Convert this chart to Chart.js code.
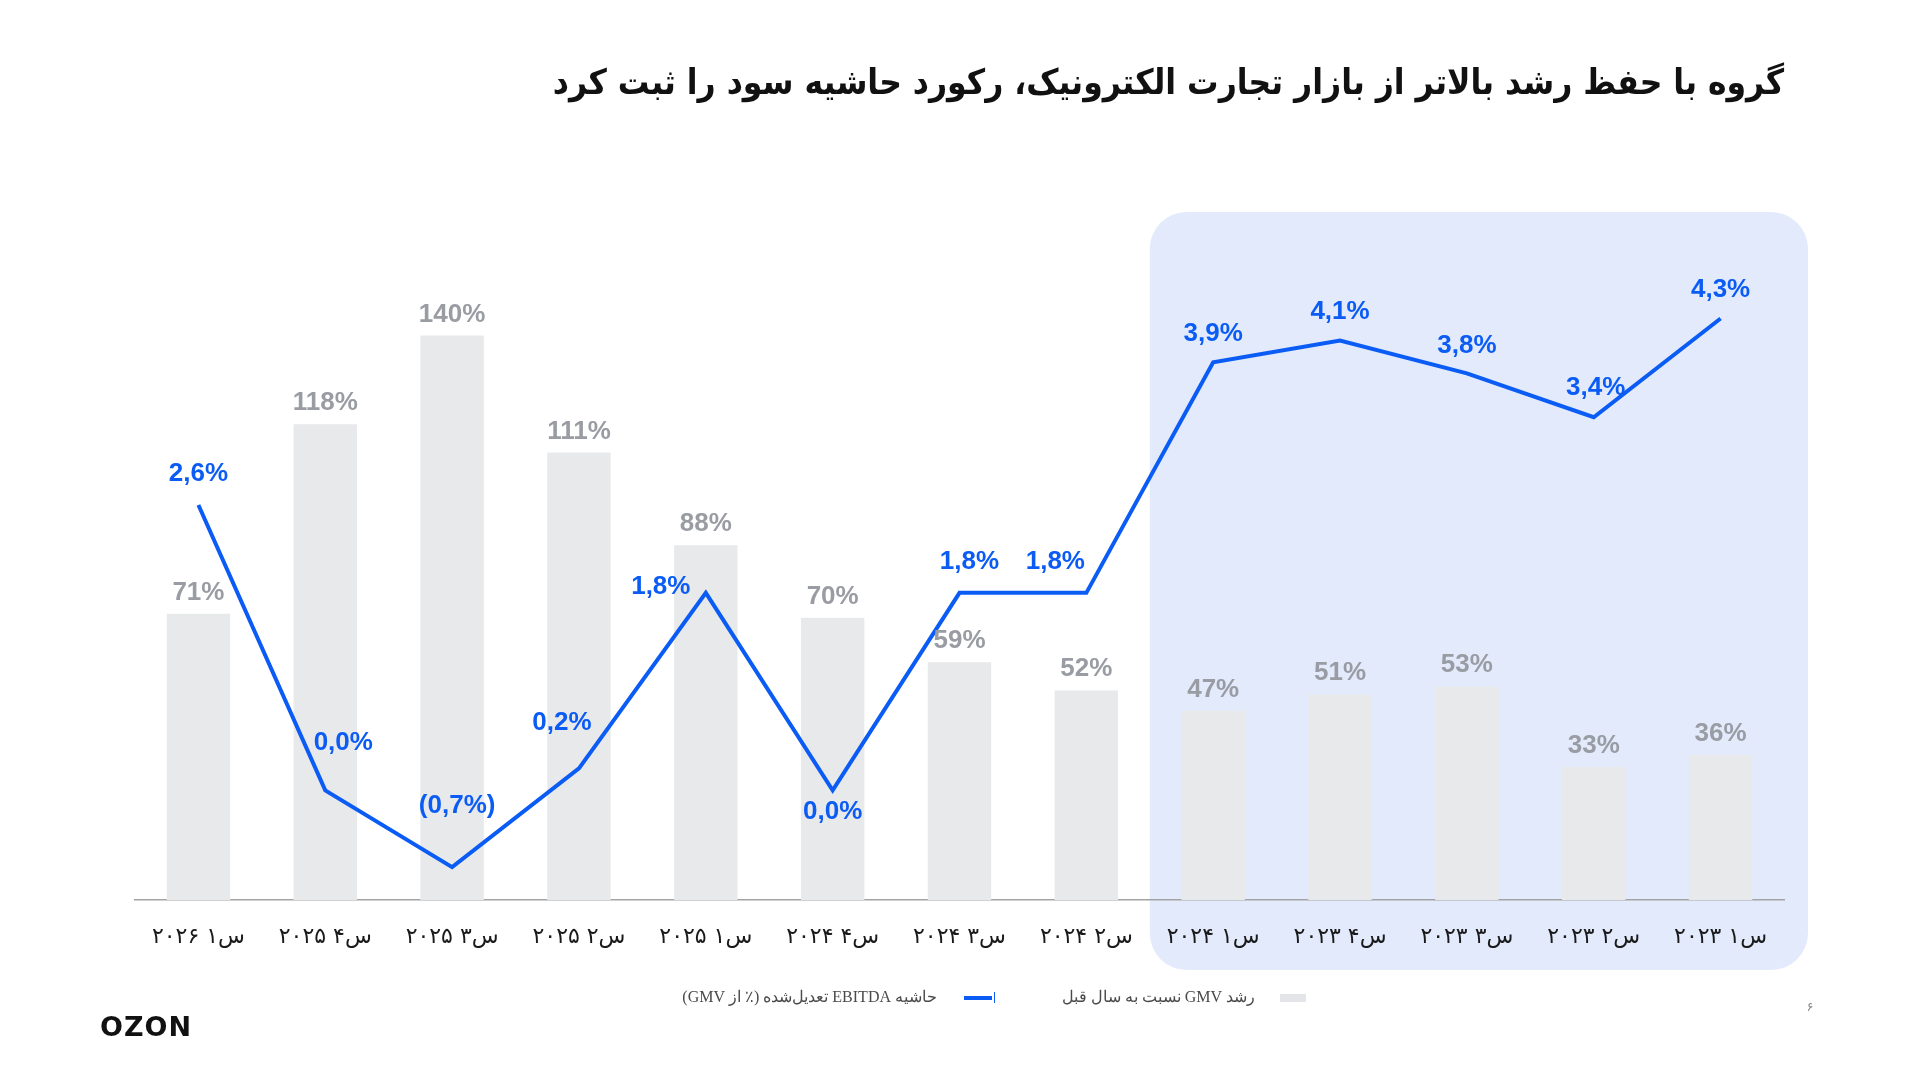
<!DOCTYPE html>
<html lang="fa">
<head>
<meta charset="utf-8">
<script src="https://cdn.jsdelivr.net/npm/chart.js@4.4.1/dist/chart.umd.min.js"></script>
<style>
  html, body { margin: 0; padding: 0; background: #ffffff; }
  #wrap { width: 1920px; height: 1080px; }
</style>
</head>
<body>
<div id="wrap"><canvas id="c" width="1920" height="1080"></canvas></div>
<script>
// ---- data ----
const categories = ['س۱ ۲۰۲۶','س۴ ۲۰۲۵','س۳ ۲۰۲۵','س۲ ۲۰۲۵','س۱ ۲۰۲۵','س۴ ۲۰۲۴','س۳ ۲۰۲۴','س۲ ۲۰۲۴','س۱ ۲۰۲۴','س۴ ۲۰۲۳','س۳ ۲۰۲۳','س۲ ۲۰۲۳','س۱ ۲۰۲۳'];
const gmvGrowth = [71, 118, 140, 111, 88, 70, 59, 52, 47, 51, 53, 33, 36];
const ebitdaMargin = [2.6, 0.0, -0.7, 0.2, 1.8, 0.0, 1.8, 1.8, 3.9, 4.1, 3.8, 3.4, 4.3];
const titleText = 'گروه با حفظ رشد بالاتر از بازار تجارت الکترونیک، رکورد حاشیه سود را ثبت کرد';
const gmvLegend = 'رشد GMV نسبت به سال قبل';
const ebitdaLegend = 'حاشیه EBITDA تعدیل‌شده (٪ از GMV)';
const highlightFrom = 8; // index of first highlighted category (س۱ ۲۰۲۴)

// ---- styles ----
const BLUE = '#0b5cf5';
const BAR = '#e8e9eb';
const BAR_LABEL = '#9a9ca3';
const HILITE = '#e2eafc';
// label offsets for the line labels (dx, dy in px relative to point)
const lineLabelOffsets = [[0,-31],[18,-48],[5,-61],[-17,-46],[-45,-6],[0,21],[10,-31],[-31,-31],[0,-29],[0,-29],[0,-28],[2,-29],[0,-29]];

function fmtMargin(v) {
  const s = Math.abs(v).toFixed(1).replace('.', ',') + '%';
  return v < 0 ? '(' + s + ')' : s;
}

const decorPlugin = {
  id: 'decor',
  beforeDraw(chart) {
    const {ctx, chartArea, scales} = chart;
    const x = scales.x;
    const left = (x.getPixelForValue(highlightFrom - 1) + x.getPixelForValue(highlightFrom)) / 2;
    const right = chartArea.right + 24;
    const top = 212, bottom = 970, r = 37;
    ctx.save();
    ctx.fillStyle = HILITE;
    ctx.beginPath();
    ctx.roundRect(left, top, right - left, bottom - top, r);
    ctx.fill();
    ctx.restore();
  },
  afterDatasetsDraw(chart) {
    const {ctx} = chart;
    ctx.save();
    // bar labels
    const barMeta = chart.getDatasetMeta(1);
    ctx.font = 'bold 26px "Liberation Sans", Arial, sans-serif';
    ctx.textAlign = 'center';
    ctx.textBaseline = 'alphabetic';
    barMeta.data.forEach((el, i) => {
      ctx.fillStyle = BAR_LABEL;
      ctx.fillText(gmvGrowth[i] + '%', el.x, el.y - 14);
    });
    // line labels
    const lineMeta = chart.getDatasetMeta(0);
    ctx.textBaseline = 'middle';
    ctx.fillStyle = BLUE;
    lineMeta.data.forEach((el, i) => {
      const o = lineLabelOffsets[i];
      ctx.fillText(fmtMargin(ebitdaMargin[i]), el.x + o[0], el.y + o[1]);
    });
    ctx.restore();
  },
  afterDraw(chart) {
    const {ctx} = chart;
    ctx.save();
    // legend (RTL layout)
    ctx.font = '16px "Liberation Serif", "DejaVu Serif", serif';
    ctx.fillStyle = '#4a4a4a';
    ctx.textBaseline = 'middle';
    ctx.textAlign = 'right';
    ctx.direction = 'rtl';
    const ly = 998;
    // item 1: gray box
    ctx.fillStyle = '#e4e5e8';
    ctx.fillRect(1280, ly - 4, 26, 8);
    ctx.fillStyle = '#4a4a4a';
    ctx.fillText(gmvLegend, 1255, ly);
    // item 2: blue line marker
    ctx.strokeStyle = BLUE;
    ctx.lineWidth = 4;
    ctx.beginPath();
    ctx.moveTo(964, ly);
    ctx.lineTo(992, ly);
    ctx.stroke();
    ctx.lineWidth = 1;
    ctx.beginPath();
    ctx.moveTo(994.5, ly - 6);
    ctx.lineTo(994.5, ly + 5);
    ctx.stroke();
    ctx.fillText(ebitdaLegend, 937, ly);
    // logo
    ctx.direction = 'ltr';
    ctx.textAlign = 'left';
    ctx.fillStyle = '#111111';
    ctx.font = 'bold 27px "DejaVu Sans", sans-serif';
    try { ctx.letterSpacing = '1px'; } catch (e) {}
    ctx.fillText('OZON', 100, 1029);
    try { ctx.letterSpacing = '0px'; } catch (e) {}
    // page number
    ctx.font = '13px "DejaVu Sans", sans-serif';
    ctx.fillStyle = '#888888';
    ctx.textAlign = 'center';
    ctx.fillText('۶', 1810, 1008);
    ctx.restore();
  }
};

new Chart(document.getElementById('c'), {
  data: {
    labels: categories,
    datasets: [
      {
        type: 'line',
        label: ebitdaLegend,
        data: ebitdaMargin,
        yAxisID: 'y2',
        borderColor: BLUE,
        backgroundColor: BLUE,
        borderWidth: 4,
        pointRadius: 0,
        tension: 0,
        order: 0
      },
      {
        type: 'bar',
        label: gmvLegend,
        data: gmvGrowth,
        yAxisID: 'y',
        backgroundColor: BAR,
        barPercentage: 0.5,
        categoryPercentage: 1.0,
        order: 1
      }
    ]
  },
  options: {
    responsive: false,
    animation: false,
    devicePixelRatio: 1,
    layout: { padding: { left: 135, right: 136, top: 0, bottom: 105.5 } },
    plugins: {
      legend: { display: false },
      tooltip: { enabled: false },
      title: {
        display: true,
        text: titleText,
        align: 'end',
        color: '#111111',
        font: { family: '"DejaVu Sans Condensed", "DejaVu Sans", sans-serif', size: 35, weight: 'bold' },
        padding: { top: 64, bottom: 88.5 }
      }
    },
    scales: {
      x: {
        offset: true,
        grid: { display: false, drawTicks: false },
        border: { display: true, color: '#a3a3a3', width: 1.5 },
        ticks: {
          color: '#1a1a1a',
          padding: 24,
          maxRotation: 0,
          autoSkip: false,
          font: { family: '"DejaVu Sans", sans-serif', size: 22 }
        }
      },
      y: { display: false, min: 0, max: 175 },
      y2: { display: false, min: -1.0, max: 5.43, position: 'right' }
    }
  },
  plugins: [decorPlugin]
});
</script>
</body>
</html>
